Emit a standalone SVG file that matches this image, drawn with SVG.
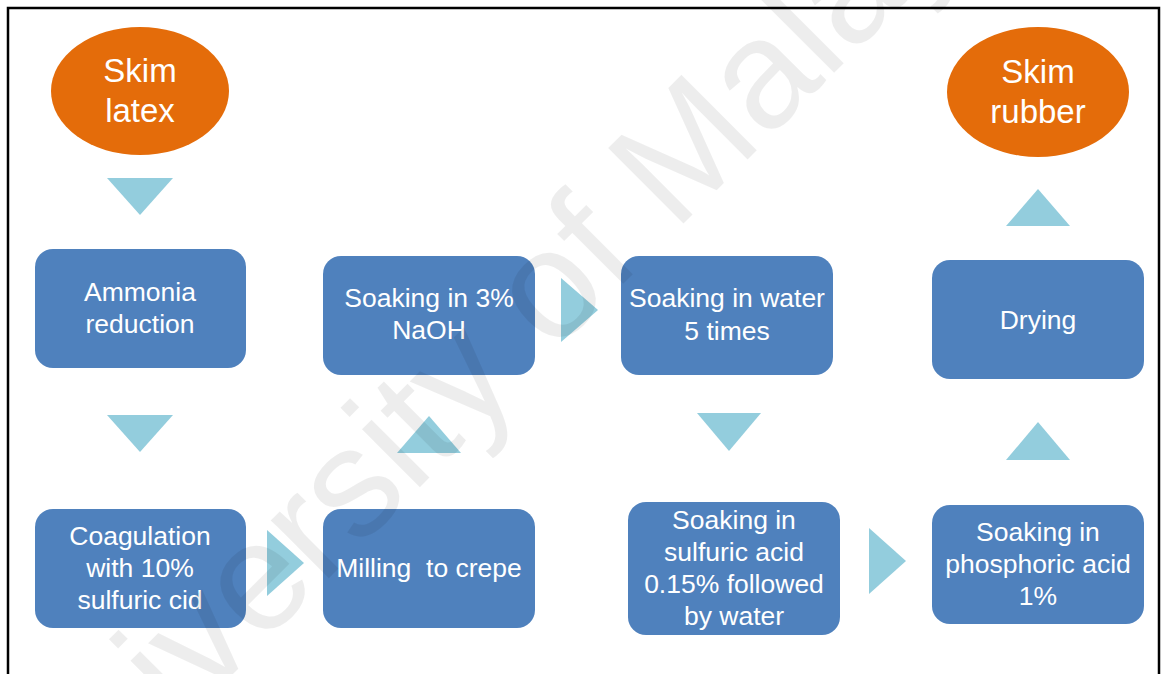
<svg xmlns="http://www.w3.org/2000/svg" width="1163" height="674" viewBox="0 0 1163 674">
<defs>
<style>
.ell{fill:#e46c0a}
.box{fill:#4f81bd}
.arr{fill:#93cddd}
.et{fill:#fff;font-family:"Liberation Sans",Arial,sans-serif;font-size:33px;text-anchor:middle}
.bt{fill:#fff;font-family:"Liberation Sans",Arial,sans-serif;font-size:26.5px;text-anchor:middle}
.wm{fill:#000;fill-opacity:0.07;font-family:"Liberation Sans",Arial,sans-serif;font-size:155px}
</style>
</defs>
<rect width="1163" height="674" fill="#fff"/>
<rect x="8" y="8" width="1151" height="720" fill="none" stroke="#000" stroke-width="2.5"/>

<g id="connectors">
<polygon class="arr" points="107,178 173,178 140,215"/>
<polygon class="arr" points="107,415 173,415 140,452"/>
<polygon class="arr" points="267,530 304,563 267,596"/>
<polygon class="arr" points="397,453 461,453 429,416"/>
<polygon class="arr" points="561,278 598,310 561,342"/>
<polygon class="arr" points="697,413 761,413 729,451"/>
<polygon class="arr" points="869,528 906,561 869,594"/>
<polygon class="arr" points="1006,460 1070,460 1038,422"/>
<polygon class="arr" points="1006,226 1070,226 1038,189"/>
</g>

<g id="skim-latex">
<ellipse class="ell" cx="140" cy="91" rx="89" ry="64"/>
<text class="et" x="140" y="82">Skim</text>
<text class="et" x="140" y="122">latex</text>
</g>

<g id="ammonia">
<rect class="box" x="35" y="249" width="211" height="119" rx="18"/>
<text class="bt" x="140" y="301">Ammonia</text>
<text class="bt" x="140" y="333">reduction</text>
</g>

<g id="coagulation">
<rect class="box" x="35" y="509" width="211" height="119" rx="18"/>
<text class="bt" x="140" y="545">Coagulation</text>
<text class="bt" x="140" y="577">with 10%</text>
<text class="bt" x="140" y="609">sulfuric cid</text>
</g>

<g id="milling">
<rect class="box" x="323" y="509" width="212" height="119" rx="18"/>
<text class="bt" x="429" y="577" xml:space="preserve">Milling  to crepe</text>
</g>

<g id="naoh">
<rect class="box" x="323" y="256" width="212" height="119" rx="18"/>
<text class="bt" x="429" y="307">Soaking in 3%</text>
<text class="bt" x="429" y="339">NaOH</text>
</g>

<g id="water">
<rect class="box" x="621" y="256" width="212" height="119" rx="18"/>
<text class="bt" x="727" y="307">Soaking in water</text>
<text class="bt" x="727" y="340">5 times</text>
</g>

<g id="sulfuric">
<rect class="box" x="628" y="502" width="212" height="133" rx="18"/>
<text class="bt" x="734" y="529">Soaking in</text>
<text class="bt" x="734" y="561">sulfuric acid</text>
<text class="bt" x="734" y="593">0.15% followed</text>
<text class="bt" x="734" y="625">by water</text>
</g>

<g id="phosphoric">
<rect class="box" x="932" y="505" width="212" height="119" rx="18"/>
<text class="bt" x="1038" y="541">Soaking in</text>
<text class="bt" x="1038" y="573">phosphoric acid</text>
<text class="bt" x="1038" y="605">1%</text>
</g>

<g id="drying">
<rect class="box" x="932" y="260" width="212" height="119" rx="18"/>
<text class="bt" x="1038" y="329">Drying</text>
</g>

<g id="skim-rubber">
<ellipse class="ell" cx="1038" cy="92" rx="91" ry="65"/>
<text class="et" x="1038" y="83">Skim</text>
<text class="et" x="1038" y="123">rubber</text>
</g>

<text class="wm" x="41" y="866" transform="rotate(-45 41 866)">University of Malaya</text>
</svg>
